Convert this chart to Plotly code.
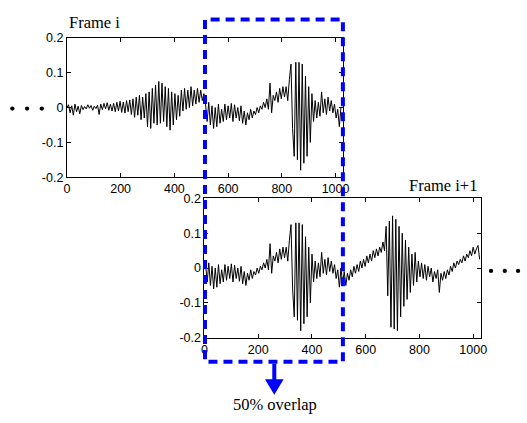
import numpy as np
import plotly.graph_objects as go

# Audio excerpt, one reading every STEP samples, amplitudes in thousandths
STEP = 6
FRAME_LEN = 1024
HOP = 512

signal_milli = [
    # n 0-510 (first half of frame i)
    0, 8, -15, 5, -22, 10, -12, 4, -18, 6,
    -6, 3, -4, 8, -2, 6, -8, 4, -3, 7,
    -20, 10, -6, 12, -4, 14, -8, 10, -10, 12,
    -12, 15, -10, 18, -14, 16, -16, 20, -12, 22,
    -20, 25, -28, 30, -22, 35, -35, 30, -30, 40,
    -55, 45, -60, 55, -45, 65, -50, 75, -45, 70,
    -40, 60, -55, 55, -65, 45, -50, 40, -35, 35,
    -25, 50, -10, 55, -5, 50, 0, 60, 5, 50,
    10, 55, 15, 50, 20, 40,
    # n 516-1020 (overlap: second half of frame i, first half of frame i+1)
    10, -40, 15, -50, 5, -60, 0, -55, 10, -45,
    -5, -40, 10, -35, 5, -30, 12, -40, 8, -30,
    0, -38, 5, -45, -10, -50, -15, -35, -5, -30,
    -10, -20, 0, -15, 5, -5, 15, 0, 25, -5,
    70, -15, 35, 20, 45, 15, 55, 25, 60, 30,
    60, 20, 80, 125, -60, -140, 130, -150, 130, -180,
    125, -160, 90, -140, 60, -100, 40, -40, 20, -30,
    15, -25, 45, -15, 25, -20, 30, -10, 20, -15,
    10, -30, -5, -55, 0, -45, -10, -50, -15, -35,
    # n 1026-1536 (second half of frame i+1)
    -5, -25, 5, -15, 10, -10, 20, 0, 25, 5,
    35, 15, 40, 20, 50, 30, 55, 35, 60, 45,
    75, 50, 120, -80, 135, -170, 150, -175, 140, -180,
    120, -140, 100, -110, 80, -90, 60, -70, 40, -50,
    45, -40, 20, -25, 15, -30, 10, -35, 5, -25,
    0, -40, -10, -30, -5, -70, -15, -35, -10, -30,
    -5, -20, 5, -10, 15, 0, 20, 10, 25, 15,
    35, 20, 40, 30, 50, 35, 60, 40, 55, 65, 25,
]

x_ticks = [0, 200, 400, 600, 800, 1000]
y_ticks = [-0.2, -0.1, 0, 0.1, 0.2]
y_tick_text = ["-0.2", "-0.1", "0", "0.1", "0.2"]

amp = np.array(signal_milli, dtype=float) / 1000.0
n = np.arange(len(amp)) * STEP

in_a = n <= FRAME_LEN
in_b = n >= HOP

W, H = 527, 423


def fx(p):
    return p / W


def fy(p):
    return 1 - p / H


fig = go.Figure()
fig.add_trace(go.Scatter(x=n[in_a], y=amp[in_a], mode="lines",
                         line=dict(color="black", width=1), xaxis="x", yaxis="y",
                         showlegend=False, hoverinfo="skip"))
fig.add_trace(go.Scatter(x=n[in_b] - HOP, y=amp[in_b], mode="lines",
                         line=dict(color="black", width=1), xaxis="x2", yaxis="y2",
                         showlegend=False, hoverinfo="skip"))

tick_font = dict(family="Liberation Sans, Arial, sans-serif", size=12.5, color="black")
common = dict(showline=True, linecolor="black", linewidth=1, mirror="allticks",
              ticks="inside", ticklen=4, tickcolor="black", tickwidth=1,
              showgrid=False, zeroline=False, tickfont=tick_font, fixedrange=True)
xcommon = dict(common, range=[0, 1028], tickmode="array", tickvals=x_ticks,
               ticktext=[str(v) for v in x_ticks])
ycommon = dict(common, range=[-0.2, 0.2], tickmode="array", tickvals=y_ticks,
               ticktext=y_tick_text)

fig.update_layout(
    width=W, height=H,
    margin=dict(l=0, r=0, t=0, b=0),
    paper_bgcolor="white", plot_bgcolor="white",
    xaxis=dict(xcommon, domain=[fx(65), fx(346)], anchor="y"),
    yaxis=dict(ycommon, domain=[fy(176), fy(32)], anchor="x"),
    xaxis2=dict(xcommon, domain=[fx(205), fx(486)], anchor="y2"),
    yaxis2=dict(ycommon, domain=[fy(342), fy(198)], anchor="x2"),
)

blue = "#0000ff"
serif = dict(family="Liberation Serif, Times New Roman, serif", size=16.5, color="black")

# overlap window, traced upward from just above the lower-left corner
L, R, T, B = 205.5, 345.8, 13, 367
window = (f"M {fx(L)} {fy(364)} L {fx(L)} {fy(T)} L {fx(R)} {fy(T)} "
          f"L {fx(R)} {fy(B)} L {fx(L)} {fy(B)} Z")

shapes = [
    dict(type="path", xref="paper", yref="paper", path=window,
         line=dict(color=blue, width=4, dash="9px,6px"), layer="above"),
    # arrow stem and head
    dict(type="line", xref="paper", yref="paper",
         x0=fx(276), x1=fx(276), y0=fy(369), y1=fy(387),
         line=dict(color=blue, width=4), layer="above"),
    dict(type="path", xref="paper", yref="paper",
         path=f"M {fx(266.5)} {fy(385)} L {fx(285.5)} {fy(385)} L {fx(276)} {fy(401)} Z",
         fillcolor=blue, line=dict(color=blue, width=0), layer="above"),
]
# continuation dots
for cx, cy in [(9.5, 105), (24.5, 105), (39.5, 105), (496.5, 273), (510.5, 273), (524, 273)]:
    shapes.append(dict(type="circle", xref="paper", yref="paper",
                       x0=fx(cx - 2.2), x1=fx(cx + 2.2), y0=fy(cy + 2.2), y1=fy(cy - 2.2),
                       fillcolor="black", line=dict(color="black", width=0)))
fig.update_layout(shapes=shapes)

fig.add_annotation(text="Frame i", xref="paper", yref="paper", x=fx(65), y=fy(16),
                   xanchor="left", yanchor="middle", showarrow=False, font=serif)
fig.add_annotation(text="Frame i+1", xref="paper", yref="paper", x=fx(484), y=fy(185),
                   xanchor="right", yanchor="middle", showarrow=False, font=serif)
fig.add_annotation(text="50% overlap", xref="paper", yref="paper", x=fx(277), y=fy(411),
                   xanchor="center", yanchor="middle", showarrow=False, font=serif)

fig.write_html("out.html")
